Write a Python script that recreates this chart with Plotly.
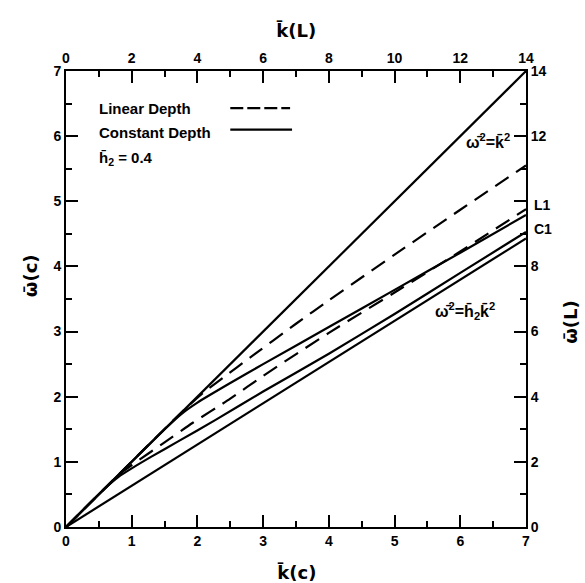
import plotly.graph_objects as go

# Dimensionless frequency vs wavenumber, constant-depth (c) and linear-depth (L) scalings
k_diag = [0, 7]
w_diag = [0, 7]

# linear depth, upper branch (dashed)
k_lin_upper = [0, 1.8, 2.1, 2.4, 2.8, 3.5, 4.0, 5.0, 6.0, 7.0]
w_lin_upper = [0, 1.8, 2.07, 2.3, 2.6, 3.12, 3.48, 4.18, 4.87, 5.55]

# linear depth, L1 (dashed)
k_L1 = [0, 0.6, 0.85, 1.1, 1.5, 1.93, 2.5, 3.0, 4.0, 5.0, 6.0, 7.0]
w_L1 = [0, 0.6, 0.84, 1.02, 1.3, 1.6, 1.97, 2.32, 2.98, 3.6, 4.23, 4.88]

# constant depth, C1 (solid)
k_C1 = [0, 1.5, 1.75, 2.0, 2.5, 3.0, 4.0, 5.0, 6.0, 7.0]
w_C1 = [0, 1.5, 1.73, 1.91, 2.21, 2.5, 3.07, 3.64, 4.21, 4.79]

# constant depth, lower branch (solid)
k_C0 = [0, 0.6, 0.8, 1.0, 1.3, 1.7, 2.27, 3.0, 4.0, 5.0, 6.0, 7.0]
w_C0 = [0, 0.6, 0.77, 0.9, 1.08, 1.31, 1.64, 2.08, 2.66, 3.27, 3.9, 4.53]

# long-wave limit omega^2 = h2 k^2
k_h2 = [0, 7]
w_h2 = [0, 4.43]

x_ticks = [0, 1, 2, 3, 4, 5, 6, 7]
x2_ticks = [0, 2, 4, 6, 8, 10, 12, 14]
y2_ticktext = ["0", "2", "4", "6", "8", "", "12", "14"]

FONT = "Liberation Sans"
NARROW = "Liberation Sans Narrow, Liberation Sans"
TITLE_FONT = "DejaVu Sans"
LW = 2.2
DASH = "16px,9px"

fig = go.Figure()


def add_line(k, w, dash="solid"):
    fig.add_trace(go.Scatter(x=k, y=w, mode="lines", showlegend=False,
                             line=dict(color="black", width=LW, dash=dash, shape="spline",
                                       smoothing=0.6),
                             hoverinfo="skip"))


add_line(k_diag, w_diag)
add_line(k_lin_upper, w_lin_upper, DASH)
add_line(k_L1, w_L1, DASH)
add_line(k_C1, w_C1)
add_line(k_C0, w_C0)
add_line(k_h2, w_h2)

# invisible trace to activate the top and right axes
fig.add_trace(go.Scatter(x=[0, 14], y=[0, 14], xaxis="x2", yaxis="y2", mode="lines",
                         line=dict(width=0), showlegend=False, hoverinfo="skip"))

tickfont = dict(family=FONT, size=14, color="black", weight="bold")
common = dict(showgrid=False, zeroline=False, showline=True, linecolor="black",
              linewidth=2, ticks="inside", tickcolor="black", tickwidth=2,
              ticklen=12, tickfont=tickfont, mirror=False)
minor_c = dict(dtick=0.5, ticklen=6, tickwidth=2, tickcolor="black", ticks="inside")
minor_l = dict(dtick=1, ticklen=6, tickwidth=2, tickcolor="black", ticks="inside")

fig.update_layout(
    width=585, height=583,
    margin=dict(l=66, r=59, t=71, b=56),
    paper_bgcolor="white", plot_bgcolor="white",
    showlegend=False,
    xaxis=dict(range=[0, 7], tickvals=x_ticks, ticktext=[str(v) for v in x_ticks],
               minor=minor_c, side="bottom", **common),
    yaxis=dict(range=[0, 7], tickvals=x_ticks, ticktext=[str(v) for v in x_ticks],
               minor=minor_c, side="left", **common),
    xaxis2=dict(range=[0, 14], tickvals=x2_ticks, ticktext=[str(v) for v in x2_ticks],
                minor=minor_l, overlaying="x", side="top", anchor="y", **common),
    yaxis2=dict(range=[0, 14], tickvals=x2_ticks, ticktext=y2_ticktext,
                minor=minor_l, overlaying="y", side="right", anchor="x", **common),
)

ann_font = dict(family=NARROW, size=15, color="black", weight="bold")
lab_font = dict(family=NARROW, size=16, color="black", weight="bold")
title_font = dict(family=TITLE_FONT, size=18, color="black", weight="bold")

# axis titles
fig.add_annotation(text="k\u0304(L)", x=0.5, xref="paper", y=1, yref="paper", yshift=41,
                   xanchor="center", yanchor="middle", showarrow=False, font=title_font)
fig.add_annotation(text="k\u0304(c)", x=0.5, xref="paper", y=0, yref="paper", yshift=-45,
                   xanchor="center", yanchor="middle", showarrow=False, font=title_font)
fig.add_annotation(text="\u03c9\u0304(c)", x=0, xref="paper", xshift=-36, y=0.55, yref="paper",
                   xanchor="center", yanchor="middle", showarrow=False, font=title_font,
                   textangle=-90)
fig.add_annotation(text="\u03c9\u0304(L)", x=1, xref="paper", xshift=45, y=0.45, yref="paper",
                   xanchor="center", yanchor="middle", showarrow=False, font=title_font,
                   textangle=-90)

# legend block
fig.add_annotation(text="Linear Depth", x=0.47, y=6.42, xref="x", yref="y", xanchor="left",
                   yanchor="middle", showarrow=False, font=ann_font)
fig.add_annotation(text="Constant Depth", x=0.47, y=6.05, xref="x", yref="y", xanchor="left",
                   yanchor="middle", showarrow=False, font=ann_font)
fig.add_annotation(text="h\u0304<sub>2</sub> = 0.4", x=0.47, y=5.66, xref="x", yref="y",
                   xanchor="left", yanchor="middle", showarrow=False, font=ann_font)
fig.add_shape(type="line", x0=2.5, x1=3.41, y0=6.43, y1=6.43, xref="x", yref="y",
              line=dict(color="black", width=LW, dash="13px,4px"))
fig.add_shape(type="line", x0=2.5, x1=3.44, y0=6.1, y1=6.1, xref="x", yref="y",
              line=dict(color="black", width=LW))

# curve labels
fig.add_annotation(text="\u03c9\u0304<sup>2</sup>=k\u0304<sup>2</sup>", x=6.42, y=5.92, xref="x",
                   yref="y", showarrow=False, font=lab_font)
fig.add_annotation(text="\u03c9\u0304<sup>2</sup>=h\u0304<sub>2</sub>k\u0304<sup>2</sup>", x=6.07,
                   y=3.32, xref="x", yref="y", showarrow=False, font=lab_font)
fig.add_annotation(text="L1", x=7, y=4.95, xref="x", yref="y", xanchor="left", xshift=6,
                   showarrow=False, font=tickfont)
fig.add_annotation(text="C1", x=7, y=4.57, xref="x", yref="y", xanchor="left", xshift=6,
                   showarrow=False, font=tickfont)

fig.write_html("out.html")
